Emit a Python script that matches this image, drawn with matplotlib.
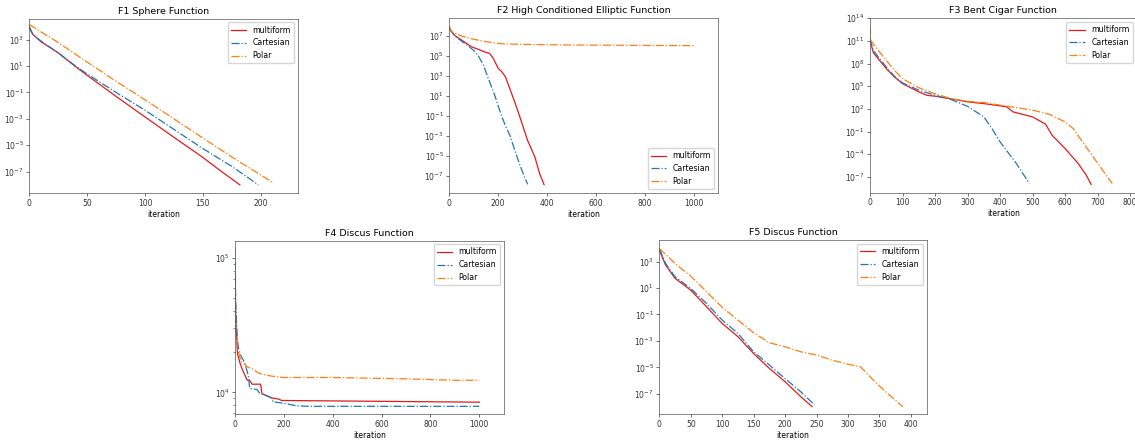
import matplotlib
matplotlib.use("Agg")
import matplotlib.pyplot as plt

# ---- data (iteration, best fitness) ----
# F1 Sphere
f1_mf_x = [0, 3, 10, 25, 40, 50, 75, 100, 125, 150, 165, 182]
f1_mf_y = [1e4, 2.5e3, 7e2, 1e2, 9e0, 2e0, 5e-2, 1.4e-3, 4e-5, 1.2e-6, 1.2e-7, 1e-8]
f1_ca_x = [0, 3, 10, 25, 40, 50, 75, 100, 125, 150, 175, 198]
f1_ca_y = [8e3, 2.5e3, 8e2, 1e2, 1e1, 2.5e0, 1e-1, 4.5e-3, 1.6e-4, 5.6e-6, 2.5e-7, 1e-8]
f1_po_x = [0, 25, 50, 75, 100, 125, 150, 175, 211]
f1_po_y = [1.4e4, 6e2, 2e1, 7e-1, 2.8e-2, 1e-3, 3.5e-5, 1.3e-6, 1.4e-8]

# F2 High Conditioned Elliptic
f2_mf_x = [0, 25, 50, 90, 125, 150, 165, 180, 200, 215, 230, 250, 275, 300, 320, 350, 370, 388]
f2_mf_y = [5e7, 1e7, 4e6, 8.5e5, 4e5, 2.3e5, 1.8e5, 5.8e4, 5.8e3, 2.6e3, 8e2, 3.8e1, 8e-1, 1.2e-2,
           3.7e-4, 8e-6, 1.6e-7, 1.3e-8]
f2_ca_x = [0, 23, 50, 78, 100, 119, 140, 156, 172, 187, 200, 214, 230, 249, 262, 276, 290, 306, 321]
f2_ca_y = [5e7, 1e7, 3e6, 1e6, 3.5e5, 1e5, 1.2e4, 1e3, 9e1, 1e1, 1e0, 1e-1, 1e-2, 1e-3, 1e-4, 1e-5,
           1e-6, 1e-7, 1.4e-8]
f2_po_x = [0, 10, 50, 100, 150, 200, 230, 300, 500, 700, 1000]
f2_po_y = [1e8, 2.7e7, 1e7, 4.7e6, 2.7e6, 1.8e6, 1.6e6, 1.45e6, 1.25e6, 1.17e6, 1.07e6]

# F3 Bent Cigar
f3_mf_x = [0, 10, 25, 50, 75, 100, 150, 175, 200, 250, 300, 350, 420, 440, 500, 540, 560, 600,
           640, 665, 680]
f3_mf_y = [1.2e11, 3e9, 4.5e8, 2.2e7, 1.7e6, 2.2e5, 1.8e4, 6.3e3, 4.8e3, 2.1e3, 8.5e2, 5e2,
           1.9e2, 4e1, 8.7e0, 9.3e-1, 3.2e-2, 5.6e-4, 5.9e-6, 1.7e-7, 1e-8]
f3_ca_x = [0, 10, 25, 50, 75, 100, 150, 200, 250, 300, 350, 375, 400, 450, 490]
f3_ca_y = [2e11, 5.8e9, 8e8, 3.6e7, 2.1e6, 2.8e5, 3e4, 6.3e3, 1.7e3, 2.2e2, 8.7e0, 2.5e-1,
           4.3e-3, 5.9e-6, 1.3e-8]
f3_po_x = [0, 2, 25, 50, 75, 100, 150, 200, 250, 300, 350, 400, 450, 500, 550, 600, 625, 650,
           700, 745]
f3_po_y = [8.7e12, 1.3e11, 5.8e9, 2.8e8, 1.3e7, 1e6, 6.3e4, 1e4, 2.3e3, 1e3, 6.9e2, 3.2e2,
           1.5e2, 6.8e1, 2e1, 1.9e0, 2.5e-1, 7e-3, 6.3e-6, 1.3e-8]

# F4 Discus
f4_mf_x = [0, 3, 10, 20, 30, 50, 60, 70, 105, 110, 150, 180, 190, 1000]
f4_mf_y = [7.8e4, 3.5e4, 1.95e4, 1.66e4, 1.48e4, 1.23e4, 1.23e4, 1.15e4, 1.15e4, 9.8e3, 9.1e3,
           8.9e3, 8.7e3, 8.45e3]
f4_ca_x = [0, 3, 7, 10, 15, 25, 40, 55, 60, 90, 100, 150, 155, 200, 250, 300, 1000]
f4_ca_y = [1.17e5, 4.7e4, 3.1e4, 2.45e4, 2.1e4, 1.86e4, 1.66e4, 1.32e4, 1.07e4, 1.05e4, 9.9e3,
           9.1e3, 8.5e3, 8.3e3, 7.95e3, 7.87e3, 7.87e3]
f4_po_x = [0, 3, 10, 25, 50, 75, 100, 150, 200, 400, 700, 900, 1000]
f4_po_y = [6.2e4, 2.6e4, 2.1e4, 1.7e4, 1.55e4, 1.48e4, 1.38e4, 1.32e4, 1.29e4, 1.29e4, 1.26e4,
           1.23e4, 1.23e4]

# F5 Discus
f5_mf_x = [0, 10, 25, 50, 75, 100, 125, 150, 175, 200, 225, 243]
f5_mf_y = [7.6e3, 5.6e2, 5.5e1, 7e0, 3.9e-1, 2.1e-2, 2.1e-3, 1.1e-4, 8.3e-6, 8.1e-7, 5.9e-8, 1.05e-8]
f5_ca_x = [0, 10, 25, 50, 75, 100, 125, 150, 175, 200, 225, 247]
f5_ca_y = [1e4, 7.4e2, 7.2e1, 9.5e0, 6.9e-1, 3.8e-2, 3.7e-3, 1.5e-4, 1.5e-5, 1.4e-6, 1.4e-7, 1.4e-8]
f5_po_x = [0, 25, 50, 75, 100, 125, 150, 175, 200, 225, 250, 275, 300, 320, 340, 360, 387]
f5_po_y = [1e4, 7.4e2, 8.1e1, 5.4e0, 3.5e-1, 3.8e-2, 4.2e-3, 7.2e-4, 3.6e-4, 1.5e-4, 8.5e-5,
           3.5e-5, 1.7e-5, 1.1e-5, 1.1e-6, 1.4e-7, 1.05e-8]

titles = ["F1 Sphere Function", "F2 High Conditioned Elliptic Function", "F3 Bent Cigar Function",
          "F4 Discus Function", "F5 Discus Function"]
series = [
    (f1_mf_x, f1_mf_y, f1_ca_x, f1_ca_y, f1_po_x, f1_po_y),
    (f2_mf_x, f2_mf_y, f2_ca_x, f2_ca_y, f2_po_x, f2_po_y),
    (f3_mf_x, f3_mf_y, f3_ca_x, f3_ca_y, f3_po_x, f3_po_y),
    (f4_mf_x, f4_mf_y, f4_ca_x, f4_ca_y, f4_po_x, f4_po_y),
    (f5_mf_x, f5_mf_y, f5_ca_x, f5_ca_y, f5_po_x, f5_po_y),
]
legend_loc = ["upper right", "lower right", "upper right", "upper right", "upper right"]
ylims = [(2.4e-9, 4e4), (1.9e-9, 5.9e8), (7.9e-10, 1e14), (6.9e3, 1.35e5), (2.9e-9, 4.4e4)]

# axes boxes in pixels: left, top, right, bottom
W, H = 1135, 442
boxes = [(29.3, 18.5, 297.8, 193), (449.3, 18.3, 718, 193), (870, 18.3, 1136.5, 192.7),
         (235, 240.5, 503.8, 414), (659.3, 240, 927, 414)]

plt.rcParams.update({
    "font.size": 5.5,
    "axes.linewidth": 0.5,
    "axes.edgecolor": "#555555",
    "xtick.major.width": 0.5,
    "ytick.major.width": 0.5,
    "xtick.minor.width": 0.4,
    "ytick.minor.width": 0.4,
    "xtick.major.size": 2,
    "ytick.major.size": 2,
    "xtick.minor.size": 1.2,
    "ytick.minor.size": 1.2,
    "xtick.major.pad": 2,
    "ytick.major.pad": 2,
    "xtick.color": "#333333",
    "ytick.color": "#333333",
    "legend.fontsize": 5.6,
    "axes.titlesize": 6.8,
    "axes.titlepad": 3.5,
    "axes.labelpad": 1.5,
})

fig = plt.figure(figsize=(W / 100, H / 100), dpi=100)

for i in range(5):
    l, t, r, b = boxes[i]
    ax = fig.add_axes([l / W, 1 - b / H, (r - l) / W, (b - t) / H])
    mx, my, cx, cy, px, py = series[i]
    ax.plot(mx, my, color="#e41a1c", lw=0.9, label="multiform")
    ax.plot(cx, cy, color="tab:blue", lw=0.9, ls="-.", label="Cartesian")
    ax.plot(px, py, color="tab:orange", lw=0.9, ls="-.", label="Polar")
    ax.set_yscale("log")
    ax.set_xlim(0, 1.1 * max(max(mx), max(cx), max(px)))
    ax.set_ylim(*ylims[i])
    ax.set_title(titles[i])
    ax.set_xlabel("iteration")
    ax.legend(loc=legend_loc[i], handlelength=2.0)

plt.savefig("out.png", dpi=100)
